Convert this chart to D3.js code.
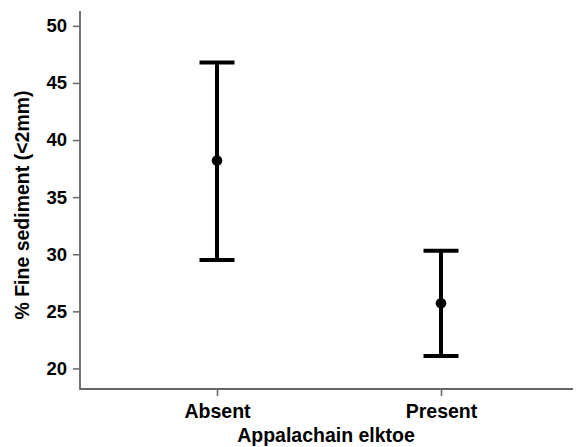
<!DOCTYPE html>
<html>
<head>
<meta charset="utf-8">
<script src="https://cdn.jsdelivr.net/npm/d3@7"></script>
<style>
    body { margin: 0; background: #fff; }
    svg { display: block; font-family: "Liberation Sans", Arial, sans-serif; }
</style>
</head>
<body>
<div id="chart"></div>
<script>

// data (mean with 95% CI)
var groups = [ 'Absent', 'Present' ];
var means = [ 38.2, 25.7 ];
var lower = [ 29.5, 21.1 ];
var upper = [ 46.8, 30.3 ];
var yTicks = [ 20, 25, 30, 35, 40, 45, 50 ];

var width = 576,
    height = 447;

var svg = d3.select('#chart').append('svg')
    .attr('width', width)
    .attr('height', height);

var x = d3.scalePoint()
    .domain( groups )
    .range([ 82.6, 575.4 ])
    .padding( 0.6 );

var y = d3.scaleLinear()
    .domain([ 18.2, 51.3 ])
    .range([ 389, 11 ]);

var axisColor = '#666';

// y axis
var yAxis = svg.append('g')
    .attr('transform', 'translate(80,0)')
    .call( d3.axisLeft( y ).tickValues( yTicks ).tickSize( 7 ).tickSizeOuter( 0 ).tickPadding( 6 ) );

yAxis.select('.domain').remove();
yAxis.selectAll('.tick line').attr('stroke', axisColor).attr('stroke-width', 1.5);
yAxis.selectAll('.tick text')
    .attr('fill', '#000')
    .style('font-size', '18.5px')
    .style('font-weight', 'bold')
    .attr('font-family', null);

// x axis
var xAxis = svg.append('g')
    .attr('transform', 'translate(0,389)')
    .call( d3.axisBottom( x ).tickSize( 7 ).tickSizeOuter( 0 ).tickPadding( 8 ) );

xAxis.select('.domain').remove();
xAxis.selectAll('.tick line').attr('stroke', axisColor).attr('stroke-width', 1.5);
xAxis.selectAll('.tick text')
    .attr('fill', '#000')
    .style('font-size', '19.5px')
    .style('font-weight', 'bold')
    .attr('font-family', null);

// axis lines
svg.append('path')
    .attr('d', 'M80,11V389H573')
    .attr('fill', 'none')
    .attr('stroke', axisColor)
    .attr('stroke-width', 1.8);

// error bars
var bars = svg.selectAll('.bar')
    .data( groups )
    .enter().append('g')
    .attr('class', 'bar');

var capHalf = 17.5;

bars.append('line')
    .attr('x1', function ( d ) { return x( d ) })
    .attr('x2', function ( d ) { return x( d ) })
    .attr('y1', function ( d, i ) { return y( upper[ i ] ) })
    .attr('y2', function ( d, i ) { return y( lower[ i ] ) })
    .attr('stroke', '#000')
    .attr('stroke-width', 4);

bars.append('line')
    .attr('x1', function ( d ) { return x( d ) - capHalf })
    .attr('x2', function ( d ) { return x( d ) + capHalf })
    .attr('y1', function ( d, i ) { return y( upper[ i ] ) })
    .attr('y2', function ( d, i ) { return y( upper[ i ] ) })
    .attr('stroke', '#000')
    .attr('stroke-width', 4);

bars.append('line')
    .attr('x1', function ( d ) { return x( d ) - capHalf })
    .attr('x2', function ( d ) { return x( d ) + capHalf })
    .attr('y1', function ( d, i ) { return y( lower[ i ] ) })
    .attr('y2', function ( d, i ) { return y( lower[ i ] ) })
    .attr('stroke', '#000')
    .attr('stroke-width', 4);

bars.append('circle')
    .attr('cx', function ( d ) { return x( d ) })
    .attr('cy', function ( d, i ) { return y( means[ i ] ) })
    .attr('r', 5.3)
    .attr('fill', '#000');

// axis titles
svg.append('text')
    .attr('x', 326)
    .attr('y', 442)
    .attr('text-anchor', 'middle')
    .style('font-size', '19.5px')
    .style('font-weight', 'bold')
    .text('Appalachain elktoe');

svg.append('text')
    .attr('transform', 'translate(29,205) rotate(-90)')
    .attr('text-anchor', 'middle')
    .style('font-size', '19.5px')
    .style('font-weight', 'bold')
    .text('% Fine sediment (<2mm)');

</script>
</body>
</html>
